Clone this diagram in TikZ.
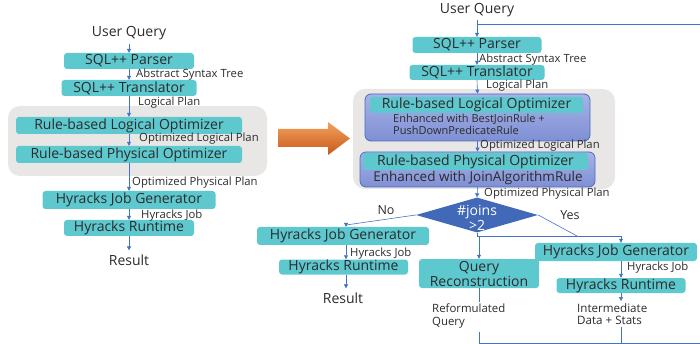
\documentclass[tikz,border=0pt]{standalone}
\usepackage{fontspec}
\setmainfont{Open Sans}
\usetikzlibrary{arrows.meta,shapes.geometric,calc}
\definecolor{tealbox}{HTML}{5EC8CF}
\definecolor{lblue}{HTML}{4472C4}
\definecolor{txt}{HTML}{2B2B2B}
\definecolor{bggray}{HTML}{E8E7E6}
\definecolor{obtop}{HTML}{A6B3E8}
\definecolor{obbot}{HTML}{7F8FD3}
\definecolor{obdraw}{HTML}{4A6BC0}
\definecolor{dmfill}{HTML}{4169B8}
\definecolor{ortop}{HTML}{F2A25C}
\definecolor{orbot}{HTML}{C9581A}
\begin{document}
\begin{tikzpicture}[x=1pt,y=-1pt,
  tbox/.style={fill=tealbox, rounded corners=3pt, inner sep=0pt, text=txt, font=\fontsize{14}{15}\selectfont},
  bgbox/.style={fill=bggray, rounded corners=12pt, inner sep=0pt},
  obox/.style={draw=obdraw, line width=0.8pt, top color=obtop, bottom color=obbot, rounded corners=6pt, inner sep=0pt},
  lbl/.style={text=txt, font=\fontsize{11.3}{12}\selectfont, inner sep=0pt},
  plain/.style={text=txt, font=\fontsize{14}{15}\selectfont, inner sep=0pt},
  ln/.style={draw=lblue, line width=0.6pt},
  arr/.style={ln, -{Triangle[length=4pt,width=4pt]}},
]
\clip (0,0) rectangle (700,344);
% ---------- left diagram ----------
\node[plain] (uq1) at (129,33) {User Query};
\node[tbox, minimum width=130, minimum height=16] (p1) at (129,61) {SQL++ Parser};
\node[tbox, minimum width=135, minimum height=16] (t1) at (129,88) {SQL++ Translator};
\node[bgbox, minimum width=259, minimum height=70] (bg1) at (137.5,141) {};
\node[tbox, minimum width=226, minimum height=17] (lo1) at (129,125.5) {Rule-based Logical Optimizer};
\node[tbox, minimum width=226, minimum height=17] (po1) at (129,154.5) {Rule-based Physical Optimizer};
\node[tbox, minimum width=173, minimum height=18] (jg1) at (129,200) {Hyracks Job Generator};
\node[tbox, minimum width=130, minimum height=16] (rt1) at (129,228) {Hyracks Runtime};
\node[plain] (res1) at (129,260) {Result};
\node[lbl, anchor=west] (l1a) at (136,75) {Abstract Syntax Tree};
\node[lbl, anchor=west] (l1b) at (138,103) {Logical Plan};
\node[lbl, anchor=west] (l1c) at (139,139) {Optimized Logical Plan};
\node[lbl, anchor=west] (l1d) at (132,183) {Optimized Physical Plan};
\node[lbl, anchor=west] (l1e) at (141,216) {Hyracks Job};
\draw[arr] ([yshift=-4pt]uq1.south) -- (p1.north);
\draw[arr] (p1.south) -- (t1.north);
\draw[arr] (t1.south) -- (lo1.north);
\draw[arr] (lo1.south) -- (po1.north);
\draw[arr] (po1.south) -- (jg1.north);
\draw[arr] (jg1.south) -- (rt1.north);
\draw[arr] (rt1.south) -- ([yshift=4pt]res1.north);
% ---------- orange arrow ----------
\shade[top color=ortop, bottom color=orbot] (278,129) -- (328,129) -- (328,122) -- (350,138.5) -- (328,155) -- (328,147) -- (278,147) -- cycle;
% ---------- right diagram ----------
\node[plain] (uq2) at (477,10) {User Query};
\node[tbox, minimum width=129, minimum height=16] (p2) at (477,45) {SQL++ Parser};
\node[tbox, minimum width=135, minimum height=15] (t2) at (477,72.5) {SQL++ Translator};
\node[bgbox, minimum width=262, minimum height=100] (bg2) at (484,139) {};
\node[obox, minimum width=225, minimum height=47] (lo2) at (477.5,117.5) {};
\node[tbox, minimum width=213, minimum height=16] (lo2t) at (476.5,105) {Rule-based Logical Optimizer};
\node[lbl, font=\fontsize{11}{12}\selectfont, anchor=west, align=left] (lo2e) at (393,124) {Enhanced with BestJoinRule +\\PushDownPredicateRule};
\node[obox, minimum width=235, minimum height=35] (po2) at (477.5,169.5) {};
\node[tbox, minimum width=225, minimum height=17] (po2t) at (475.5,161.5) {Rule-based Physical Optimizer};
\node[plain, font=\fontsize{13.5}{15}\selectfont] (po2e) at (478,177.5) {Enhanced with JoinAlgorithmRule};
\node[lbl, anchor=west] (l2a) at (479,60) {Abstract Syntax Tree};
\node[lbl, anchor=west] (l2b) at (486,86) {Logical Plan};
\node[lbl, anchor=west] (l2c) at (480,146) {Optimized Logical Plan};
\node[lbl, anchor=west] (l2d) at (484,194) {Optimized Physical Plan};
\node[diamond, fill=dmfill, minimum width=122, minimum height=35, inner sep=0pt] (dm) at (477,215) {};
\node[plain, text=white, align=center, font=\fontsize{14}{15}\selectfont] (dmt) at (477,218) {\#joins\\>2};
\node[plain, font=\fontsize{12.5}{14}\selectfont] (no) at (386,210) {No};
\node[plain, font=\fontsize{12.5}{14}\selectfont] (yes) at (570,215) {Yes};
\node[tbox, minimum width=172, minimum height=18] (jg2) at (343,236) {Hyracks Job Generator};
\node[lbl, anchor=west] (l2e) at (350,254) {Hyracks Job};
\node[tbox, minimum width=129, minimum height=15] (rt2) at (343.5,267) {Hyracks Runtime};
\node[plain] (res2) at (343,298) {Result};
\node[tbox, minimum width=120, minimum height=29, align=center] (qr) at (479,273.5) {Query\\Reconstruction};
\node[tbox, minimum width=162, minimum height=18] (jg3) at (616,252) {Hyracks Job Generator};
\node[lbl, anchor=west] (l3e) at (627,268) {Hyracks Job};
\node[tbox, minimum width=129, minimum height=15] (rt3) at (621,285.5) {Hyracks Runtime};
\node[lbl, anchor=west, align=left, font=\fontsize{11.6}{12.5}\selectfont] (im) at (577,314) {Intermediate\\Data + Stats};
\node[lbl, anchor=west, align=left, font=\fontsize{11.4}{13}\selectfont] (rf) at (432,316.5) {Reformulated\\Query};
% coordinates
\coordinate (nobend) at (346,225);
\coordinate (split) at (477,236);
\coordinate (splitr) at (621,236);
\coordinate (yesend) at (577,236);
\coordinate (qrend) at (479,302);
\coordinate (qrres) at (479,332);
\coordinate (loopbl) at (479,343);
\coordinate (imres) at (621,327);
\coordinate (loopbm) at (621,343);
\coordinate (loopbr) at (712,343);
\coordinate (looptr) at (712,24);
\coordinate (loopj) at (477,24);
% connectors right
\draw[arr] ([yshift=-3pt]uq2.south) -- (p2.north);
\draw[ln] (looptr) -- (loopj);
\draw[arr] (p2.south) -- (t2.north);
\draw[arr] (t2.south) -- (lo2.north);
\draw[arr] (lo2.south) -- (po2.north);
\draw[arr] (po2.south) -- (dm.north);
\draw[arr] (dm.west) -- (nobend) -- (nobend |- jg2.north);
\draw[arr] (dm.south) -- (split) -- (split -| qr.north) -- (qr.north);
\draw[arr] (split) -- (splitr) -- (splitr |- jg3.north);
\draw[ln] (dm.east) -- (yesend);
\draw[arr] (jg2.south -| nobend) -- (rt2.north -| nobend);
\draw[arr] (rt2.south -| nobend) -- ([yshift=4pt]res2.north -| nobend);
\draw[arr] (jg3.south -| splitr) -- (rt3.north -| splitr);
\draw[arr] (rt3.south -| splitr) -- ([yshift=2pt]im.north -| splitr);
\draw[ln] (qr.south) -- (qrend);
\draw[ln] (qrres) -- (loopbl) -- (loopbr) -- (looptr);
\draw[ln] (imres) -- (loopbm);
\end{tikzpicture}
\end{document}
